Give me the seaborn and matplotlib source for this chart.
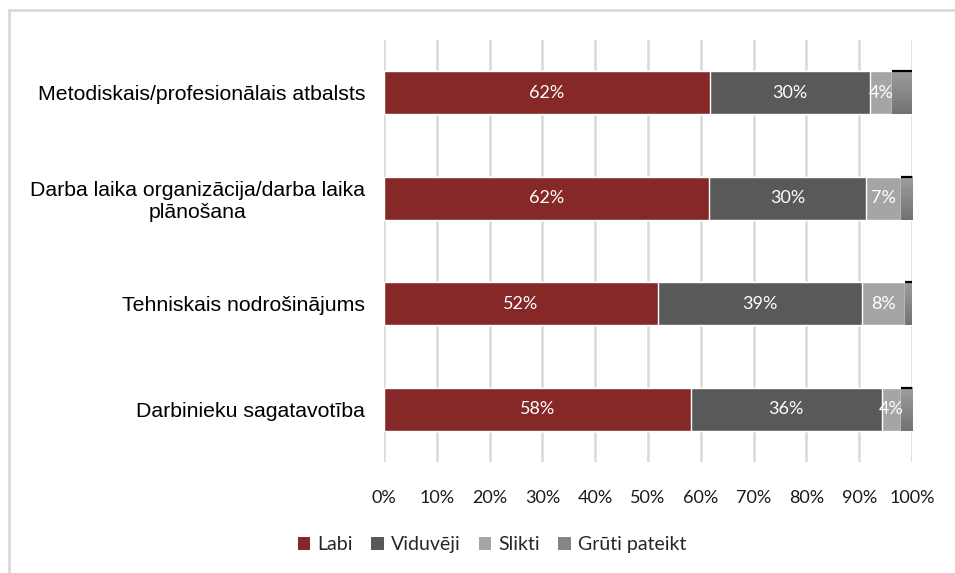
import numpy as np
import pandas as pd
import seaborn as sns
import matplotlib.pyplot as plt
from matplotlib.patches import Patch, Rectangle

# Data
categories = [
    "Metodiskais/profesionālais atbalsts",
    "Darba laika organizācija/darba laika\nplānošana",
    "Tehniskais nodrošinājums",
    "Darbinieku sagatavotība",
]
series_names = ["Labi", "Viduvēji", "Slikti", "Grūti pateikt"]
labi = [61.7, 61.6, 51.9, 58.1]
viduveji = [30.3, 29.7, 38.7, 36.2]
slikti = [4.3, 6.6, 8.1, 3.6]
gruti = [3.7, 2.1, 1.3, 2.1]
x_ticks = np.arange(0, 101, 10)

colors = ["#862828", "#595959", "#a5a5a5", "#858585"]

sns.set_theme(style="white")
plt.rcParams["font.family"] = ["Lato", "DejaVu Sans"]

df = pd.DataFrame({
    "category": categories,
    "Labi": labi,
    "Viduvēji": viduveji,
    "Slikti": slikti,
    "Grūti pateikt": gruti,
})

fig = plt.figure(figsize=(9.55, 5.73), dpi=100)
ax = fig.add_axes([0.402, 0.194, 0.553, 0.736])

# stacked bars: draw cumulative totals from the outside in
cum = df[series_names].cumsum(axis=1)
containers = {}
for name, col in reversed(list(zip(series_names, colors))):
    sns.barplot(
        x=cum[name],
        y=df["category"],
        orient="h",
        color=col,
        width=0.41,
        saturation=1,
        ax=ax,
    )
    containers[name] = ax.containers[-1]

# gradient look + dark top edge for "Grūti pateikt"
grad = np.linspace(0.62, 0.45, 64).reshape(-1, 1)
for p, g in zip(containers["Grūti pateikt"], gruti):
    x0, y0 = p.get_x(), p.get_y()
    w, h = p.get_width(), p.get_height()
    left = x0 + w - g
    ax.imshow(grad, cmap="gray", vmin=0, vmax=1, aspect="auto",
              extent=(left, x0 + w, y0 + h, y0), zorder=p.get_zorder() + 0.1)
    ax.plot([left, x0 + w], [y0, y0], color="black", lw=1.6,
            zorder=p.get_zorder() + 0.2, solid_capstyle="butt")

# value labels
for name, vals in zip(series_names[:3], [labi, viduveji, slikti]):
    cont = containers[name]
    for p, v, c in zip(cont, vals, cum[name]):
        ax.text(c - v / 2, p.get_y() + p.get_height() / 2, f"{v:.0f}%",
                ha="center", va="center", color="white", fontsize=13,
                zorder=10)

ax.set_xlim(0, 100)
ax.set_ylim(3.5, -0.5)
ax.set_xticks(x_ticks)
ax.set_xticklabels([f"{t}%" for t in x_ticks], fontsize=13, color="#1a1a1a")
ax.tick_params(axis="x", length=0, pad=20)
ax.tick_params(axis="y", length=0, pad=13.5)
ax.set_yticks(range(len(categories)))
ax.set_yticklabels(categories, fontsize=15.3, family="Liberation Sans",
                   multialignment="center", color="black")
ax.set_xlabel("")
ax.set_ylabel("")
ax.xaxis.grid(True, color="#d9d9d9", lw=1.8)
ax.set_axisbelow(True)
for s in ax.spines.values():
    s.set_visible(False)

# legend
handles = [Patch(facecolor=c, edgecolor="none") for c in colors]
fig.legend(handles, series_names, loc="center", bbox_to_anchor=(0.515, 0.049),
           ncol=4, frameon=False, fontsize=14, handlelength=0.65,
           handleheight=0.65, handletextpad=0.35, columnspacing=0.95)

# chart-area border (only top/left visible in the crop)
fig.patches.append(Rectangle((9 / 955, -0.1), 1.2, 1 - 10 / 573 + 0.1,
                             transform=fig.transFigure, fill=False,
                             edgecolor="#d9d9d9", lw=2))

fig.savefig("out.png", dpi=100)
